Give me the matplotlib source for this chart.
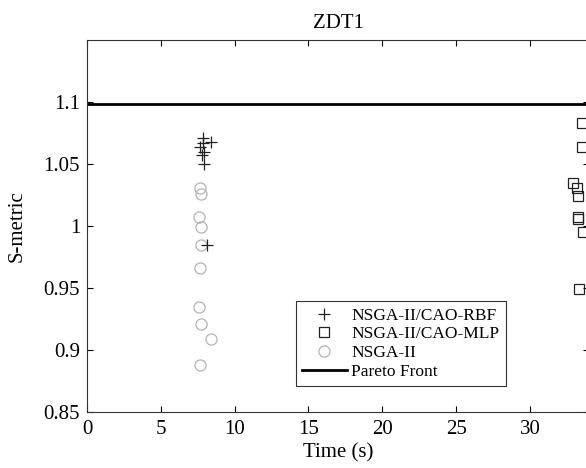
import matplotlib
matplotlib.use("Agg")
import matplotlib.pyplot as plt
from matplotlib.lines import Line2D

plt.rcParams['font.family'] = ['Liberation Serif', 'DejaVu Serif']
plt.rcParams['mathtext.fontset'] = 'stix'

# S-metric vs run time for ZDT1
rbf_time = [7.85, 8.40, 7.85, 7.65, 7.92, 7.79, 7.92, 8.12]
rbf_s = [1.071, 1.068, 1.067, 1.064, 1.060, 1.057, 1.050, 0.985]

mlp_time = [33.5, 33.5, 32.9, 33.2, 33.25, 33.25, 33.25, 33.6, 33.3]
mlp_s = [1.083, 1.064, 1.035, 1.031, 1.024, 1.0076, 1.006, 0.9955, 0.949]

nsga_time = [7.65, 7.72, 7.58, 7.72, 7.72, 7.65, 7.58, 7.72, 8.40, 7.65]
nsga_s = [1.031, 1.026, 1.007, 0.999, 0.985, 0.966, 0.935, 0.921, 0.909, 0.888]

pareto_s = 1.098

fig = plt.figure(figsize=(5.86, 4.68), dpi=100)
ax = fig.add_axes([87 / 586, 56 / 468, 502 / 586, 372 / 468])

ax.axhline(pareto_s, color='black', lw=2.0, zorder=1)
ax.plot(nsga_time, nsga_s, 'o', mfc='none', mec='#b4b4b4', ms=8, mew=0.9, ls='none')
ax.plot(mlp_time, mlp_s, 's', mfc='none', mec='#222222', ms=7, mew=0.9, ls='none')
ax.plot(rbf_time, rbf_s, '+', color='#222222', ms=8, mew=0.9, ls='none')

ax.set_xlim(0, 34)
ax.set_ylim(0.85, 1.15)
ax.set_xticks([0, 5, 10, 15, 20, 25, 30])
ax.set_yticks([0.85, 0.9, 0.95, 1.0, 1.05, 1.1])
ax.set_yticklabels(['0.85', '0.9', '0.95', '1', '1.05', '1.1'])
ax.tick_params(direction='in', length=4, width=0.8, top=True, right=True,
               labelsize=15)
ax.tick_params(axis='x', pad=6)
ax.tick_params(axis='y', pad=5)
for s in ax.spines.values():
    s.set_linewidth(0.8)
    s.set_color('#333333')

ax.set_title('ZDT1', fontsize=15, pad=9)
ax.set_xlabel('Time (s)', fontsize=15, labelpad=3)
ax.set_ylabel('S-metric', fontsize=15, labelpad=12)

handles = [
    Line2D([], [], marker='+', color='#222222', ls='none', ms=8, mew=0.9),
    Line2D([], [], marker='s', mfc='none', mec='#222222', ls='none', ms=7, mew=0.9),
    Line2D([], [], marker='o', mfc='none', mec='#b4b4b4', ls='none', ms=8, mew=0.9),
    Line2D([], [], color='black', lw=2.0),
]
labels = ['NSGA-II/CAO-RBF', 'NSGA-II/CAO-MLP', 'NSGA-II', 'Pareto Front']
leg = ax.legend(handles, labels, loc='lower left', bbox_to_anchor=(0.416, 0.07),
                borderaxespad=0, fontsize=12.5, frameon=True, fancybox=False,
                edgecolor='#333333', framealpha=1, handlelength=2.6,
                handletextpad=0.25, labelspacing=0.15, borderpad=0.35)
leg.get_frame().set_linewidth(0.8)

fig.savefig('out.png', dpi=100)
